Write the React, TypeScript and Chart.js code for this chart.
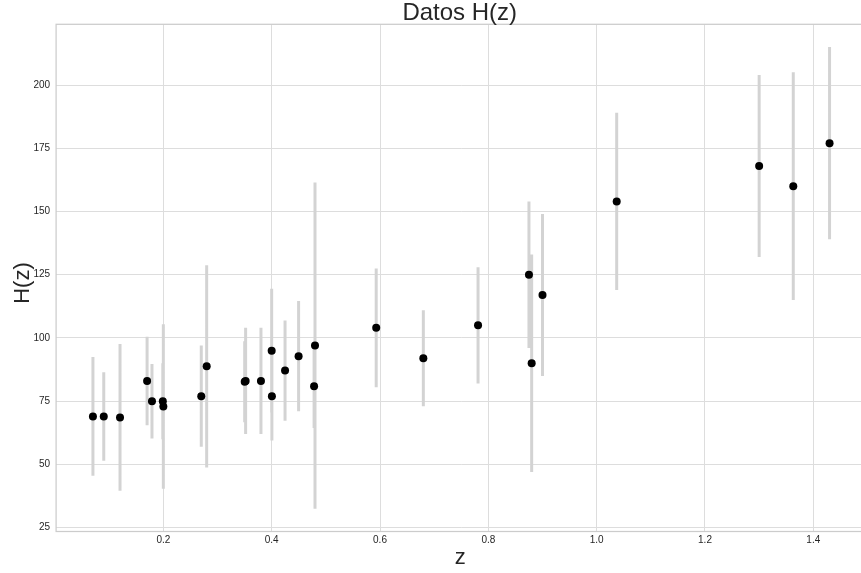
import React, { useEffect, useRef } from "react";
import { Chart, registerables } from "chart.js";

Chart.register(...registerables);

// Redshift values
const zValues = [
  0.07, 0.09, 0.12, 0.17, 0.179, 0.199, 0.2, 0.27, 0.28, 0.3502, 0.3519, 0.3802,
  0.4, 0.4004, 0.4247, 0.4497, 0.4783, 0.48, 0.593, 0.68, 0.781, 0.875, 0.88, 0.9,
  1.037, 1.3, 1.363, 1.43,
];
// H(z) values
const hValues = [
  69, 69, 68.6, 83, 75, 75, 72.9, 77, 88.8, 82.7, 83, 83,
  95, 77, 87.1, 92.8, 80.9, 97, 104, 92, 105, 125, 90, 117,
  154, 168, 160, 177,
];
// symmetric errors on H(z)
const hErrors = [
  23.5, 17.5, 29, 17.5, 14.7, 15, 32.5, 20, 40, 16, 21, 21,
  24.5, 17.5, 19.8, 21.8, 16.5, 64.5, 23.5, 19, 23, 29, 43, 32,
  35, 36, 45, 38,
];

const xTicks = [0.2, 0.4, 0.6, 0.8, 1.0, 1.2, 1.4];
const yTicks = [25, 50, 75, 100, 125, 150, 175, 200];
const xLimits = [0.002, 1.498];
const yLimits = [23.5, 224];

const titleText = "Datos H(z)";
const xLabelText = "z";
const yLabelText = "H(z)";

const FONT = "'Liberation Sans', Arial, Helvetica, sans-serif";
const CANVAS_W = 880;
const CANVAS_H = 573;
const TEXT_COLOR = "#262626";

export default function App() {
  const ref = useRef<HTMLCanvasElement>(null);

  useEffect(() => {
    document.body.style.margin = "0";
    const canvas = ref.current;
    if (!canvas) return;

    const errData: { x: number; y: number | null }[] = [];
    zValues.forEach((z, i) => {
      errData.push({ x: z, y: hValues[i] - hErrors[i] });
      errData.push({ x: z, y: hValues[i] + hErrors[i] });
      errData.push({ x: z, y: null });
    });
    const pointData = zValues.map((z, i) => ({ x: z, y: hValues[i] }));

    const framePlugin = {
      id: "frame",
      beforeDatasetsDraw(chart: any) {
        const { ctx, chartArea } = chart;
        ctx.save();
        ctx.strokeStyle = "#cccccc";
        ctx.lineWidth = 1.25;
        ctx.strokeRect(chartArea.left, chartArea.top, chartArea.right - chartArea.left, chartArea.bottom - chartArea.top);
        ctx.restore();
      },
    };

    const textPlugin = {
      id: "texts",
      afterDraw(chart: any) {
        const { ctx, chartArea } = chart;
        ctx.save();
        ctx.fillStyle = TEXT_COLOR;
        ctx.textAlign = "center";
        ctx.textBaseline = "alphabetic";
        const cx = (chartArea.left + chartArea.right) / 2;
        ctx.font = `24px ${FONT}`;
        ctx.fillText(titleText, cx - 1.5, 19.5);
        ctx.font = `22px ${FONT}`;
        ctx.fillText(xLabelText, cx - 1, 564);
        ctx.translate(29, 283);
        ctx.rotate(-Math.PI / 2);
        ctx.fillText(yLabelText, 0, 0);
        ctx.restore();
      },
    };

    const chart = new Chart(canvas, {
      type: "scatter",
      data: {
        datasets: [
          {
            label: "err",
            data: errData as any,
            showLine: true,
            spanGaps: false,
            borderColor: "#d3d3d3",
            borderWidth: 3,
            pointRadius: 0,
            pointHoverRadius: 0,
            order: 2,
          },
          {
            label: "H(z)",
            data: pointData,
            backgroundColor: "#000000",
            borderColor: "#000000",
            borderWidth: 0,
            pointRadius: 4,
            order: 1,
          },
        ],
      },
      options: {
        responsive: false,
        animation: false,
        devicePixelRatio: 1,
        layout: { padding: { left: 0, right: CANVAS_W - 866.4, top: 24.3, bottom: 0 } },
        plugins: {
          legend: { display: false },
          title: { display: false },
          tooltip: { enabled: false },
        },
        scales: {
          x: {
            type: "linear",
            min: xLimits[0],
            max: xLimits[1],
            afterBuildTicks: (s: any) => {
              s.ticks = xTicks.map((v) => ({ value: v }));
            },
            afterFit: (s: any) => {
              s.height = CANVAS_H - 531.5;
            },
            grid: { color: "#dddddd", lineWidth: 1, drawTicks: false, tickLength: 0 },
            border: { display: false },
            ticks: {
              padding: 2.5,
              color: TEXT_COLOR,
              font: { family: FONT, size: 10 },
              maxRotation: 0,
              autoSkip: false,
              callback: (v: any) => Number(v).toFixed(1),
            },
          },
          y: {
            type: "linear",
            min: yLimits[0],
            max: yLimits[1],
            afterBuildTicks: (s: any) => {
              s.ticks = yTicks.map((v) => ({ value: v }));
            },
            afterFit: (s: any) => {
              s.width = 56.1;
            },
            grid: { color: "#dddddd", lineWidth: 1, drawTicks: false, tickLength: 0 },
            border: { display: false },
            ticks: {
              padding: 6,
              color: TEXT_COLOR,
              font: { family: FONT, size: 10 },
              autoSkip: false,
              callback: (v: any) => String(v),
            },
          },
        },
      },
      plugins: [framePlugin, textPlugin],
    });

    return () => chart.destroy();
  }, []);

  return (
    <div style={{ width: 861, height: CANVAS_H, overflow: "hidden", background: "#ffffff" }}>
      <canvas ref={ref} width={CANVAS_W} height={CANVAS_H} style={{ display: "block" }} />
    </div>
  );
}
